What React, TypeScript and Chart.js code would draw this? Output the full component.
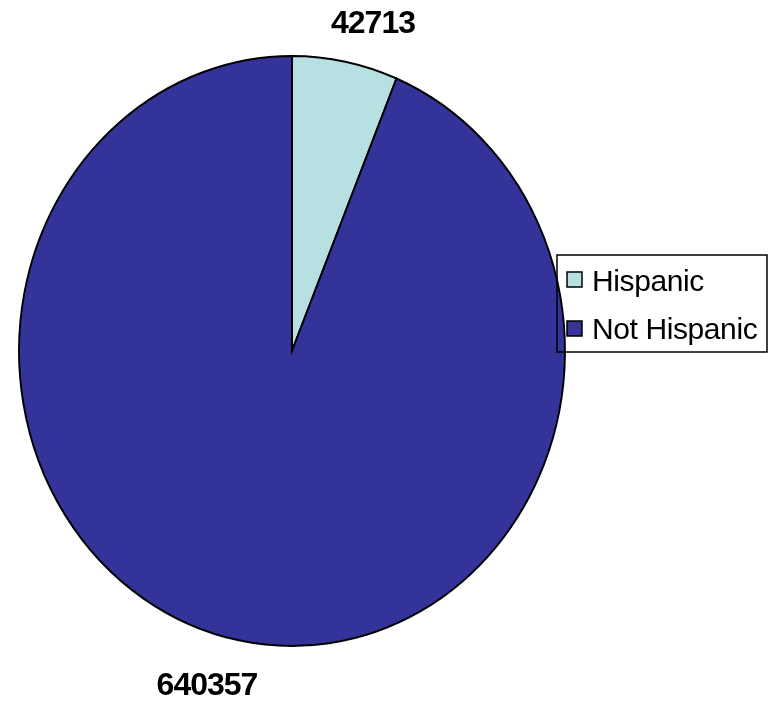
import React, { useEffect, useRef } from "react";
import { Chart, registerables } from "chart.js";

Chart.register(...registerables);

const categories: string[] = ["Hispanic", "Not Hispanic"];
const values: number[] = [42713, 640357];
const valueLabels: string[] = ["42713", "640357"];
const colors: string[] = ["#b7e0e2", "#333399"];

const FONT = '"Liberation Sans", Arial, sans-serif';

const ellipsePlugin = {
  id: "ellipse",
  beforeDatasetsDraw(chart: any) {
    const meta = chart.getDatasetMeta(0);
    const arc = meta.data[0];
    if (!arc) return;
    const { x, y, outerRadius } = arc.getProps(["x", "y", "outerRadius"], true);
    const ctx = chart.ctx;
    ctx.save();
    ctx.translate(x, y);
    ctx.scale(273 / outerRadius, 295 / outerRadius);
    ctx.translate(-x, -y);
  },
  afterDatasetsDraw(chart: any) {
    chart.ctx.restore();
  },
};

const overlayPlugin = {
  id: "overlay",
  afterDraw(chart: any) {
    const ctx = chart.ctx;
    ctx.save();
    // value labels
    ctx.fillStyle = "#000";
    ctx.font = `bold 32px ${FONT}`;
    ctx.textAlign = "center";
    ctx.textBaseline = "alphabetic";
    try { (ctx as any).letterSpacing = "-1px"; } catch (e) {}
    const labelPos = [
      [373, 33],
      [207, 695],
    ];
    valueLabels.forEach((t, i) => ctx.fillText(t, labelPos[i][0], labelPos[i][1]));
    // legend
    try { (ctx as any).letterSpacing = "-0.4px"; } catch (e) {}
    ctx.strokeStyle = "#000";
    ctx.lineWidth = 1.5;
    ctx.strokeRect(557, 255, 210, 97);
    const rows = [272, 321];
    const baselines = [291, 339];
    ctx.font = `30px ${FONT}`;
    ctx.textAlign = "left";
    categories.forEach((c, i) => {
      ctx.fillStyle = colors[i];
      ctx.fillRect(567, rows[i], 15, 15);
      ctx.strokeStyle = "#000";
      ctx.lineWidth = 1.5;
      ctx.strokeRect(567, rows[i], 15, 15);
      ctx.fillStyle = "#000";
      ctx.fillText(c, 592, baselines[i]);
    });
    ctx.restore();
  },
};

export default function App() {
  const ref = useRef<HTMLCanvasElement>(null);
  useEffect(() => {
    if (!ref.current) return;
    const chart = new Chart(ref.current, {
      type: "pie",
      data: {
        labels: categories,
        datasets: [
          {
            data: values,
            backgroundColor: colors,
            borderColor: "#000",
            borderWidth: 2,
            borderJoinStyle: "miter",
          } as any,
        ],
      },
      options: {
        responsive: false,
        animation: false,
        devicePixelRatio: 1,
        layout: { padding: { top: 56, bottom: 56, left: 0, right: 194 } },
        plugins: {
          legend: { display: false },
          tooltip: { enabled: false },
        },
      },
      plugins: [ellipsePlugin, overlayPlugin],
    });
    return () => chart.destroy();
  }, []);
  return (
    <div style={{ position: "absolute", left: 0, top: 0, width: 778, height: 702, background: "#fff" }}>
      <canvas ref={ref} width={778} height={702} style={{ width: 778, height: 702 }} />
    </div>
  );
}
